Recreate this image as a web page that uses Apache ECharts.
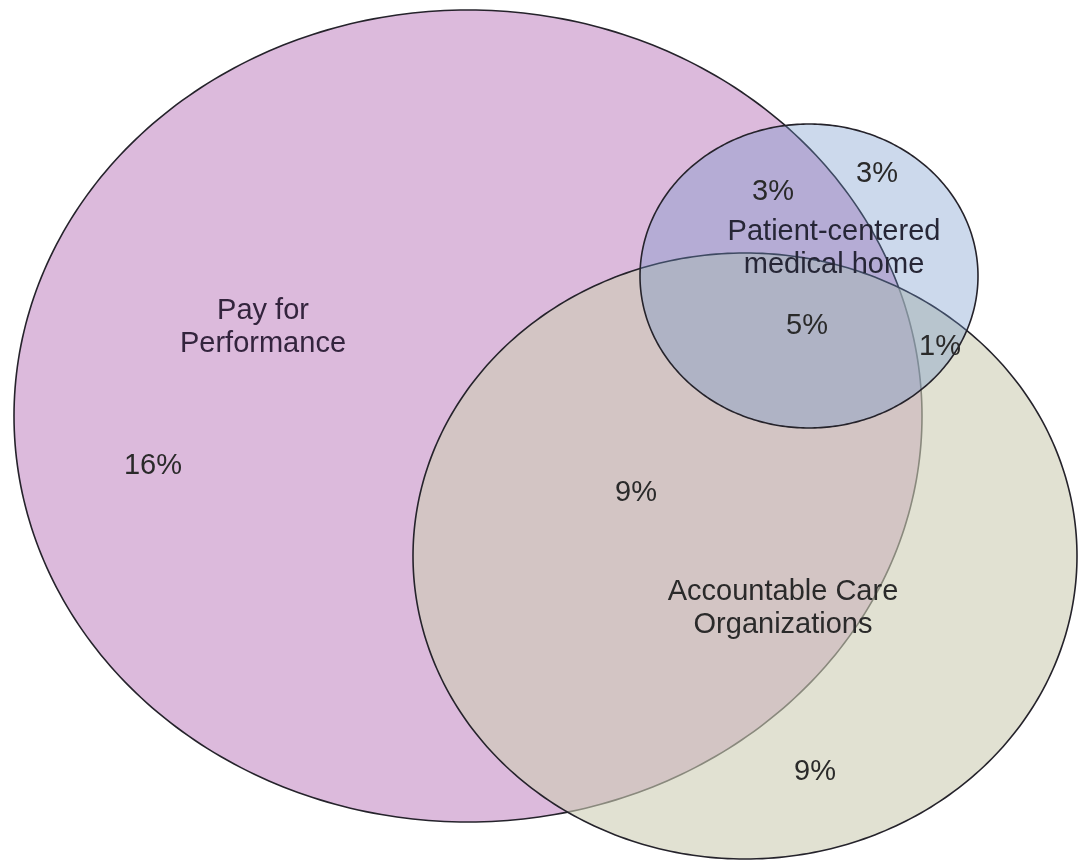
<!DOCTYPE html>
<html>
<head>
<meta charset="utf-8">
<script src="https://cdn.jsdelivr.net/npm/echarts@6/dist/echarts.min.js"></script>
<style>
  html, body { margin: 0; padding: 0; background: #ffffff; }
  #chart { width: 1078px; height: 860px; }
</style>
</head>
<body>
<div id="chart"></div>
<script>
// Program sets (diagram units: 1078 wide, 860 tall, y grows downward)
const setNames   = ['Pay for\nPerformance', 'Accountable Care\nOrganizations', 'Patient-centered\nmedical home'];
const setCenterX = [468, 745, 809];
const setCenterY = [416, 556, 276];
const setRadiusX = [454, 332, 169];
const setRadiusY = [406, 303, 152];
const setLabelX  = [263, 783, 834];
const setLabelY  = [327, 608, 248];

// Share of respondents in each region of the diagram
const regionNames  = ['P4P only', 'P4P + ACO', 'P4P + PCMH', 'PCMH only', 'All three', 'PCMH + ACO', 'ACO only'];
const regionValues = [16, 9, 3, 3, 5, 1, 9];
const regionX      = [153, 636, 773, 877, 807, 940, 815];
const regionY      = [466, 493, 192, 174, 326, 347, 772];

const fills = ['rgb(220,186,220)', 'rgba(205,205,180,0.6)', 'rgba(109,146,200,0.35)'];
const nameColors = ['#33243d', '#2a2a2a', '#262636'];
const FONT = '"Liberation Sans", Arial, Helvetica, sans-serif';

const ellipseData = setNames.map((n, i) => ({
  name: n,
  value: [setCenterX[i], setCenterY[i], setRadiusX[i], setRadiusY[i]]
}));

function renderEllipse(params, api) {
  const cx = api.value(0), cy = api.value(1), rx = api.value(2), ry = api.value(3);
  const pts = [];
  const steps = 360;
  for (let k = 0; k < steps; k++) {
    const t = (k / steps) * Math.PI * 2;
    pts.push(api.coord([cx + rx * Math.cos(t), cy + ry * Math.sin(t)]));
  }
  return {
    type: 'polygon',
    shape: { points: pts },
    style: { fill: fills[params.dataIndex], stroke: '#25232b', lineWidth: 1.6 }
  };
}

const chart = echarts.init(document.getElementById('chart'), null, { renderer: 'canvas' });
chart.setOption({
  backgroundColor: '#ffffff',
  animation: false,
  grid: { left: 0, right: 0, top: 0, bottom: 0 },
  xAxis: { type: 'value', min: 0, max: 1078, show: false },
  yAxis: { type: 'value', min: 0, max: 860, inverse: true, show: false },
  series: [
    {
      type: 'custom',
      renderItem: renderEllipse,
      data: ellipseData,
      encode: { x: [0], y: [1] },
      clip: false,
      silent: true
    },
    {
      type: 'scatter',
      symbolSize: 0,
      silent: true,
      itemStyle: { opacity: 1 },
      data: setNames.map((n, i) => ({
        value: [setLabelX[i], setLabelY[i]],
        label: { color: nameColors[i] }
      })),
      label: {
        show: true,
        position: 'inside',
        formatter: p => setNames[p.dataIndex],
        fontFamily: FONT,
        fontSize: 29,
        lineHeight: 33,
        align: 'center',
        verticalAlign: 'middle'
      },
      z: 5
    },
    {
      type: 'scatter',
      symbolSize: 0,
      silent: true,
      itemStyle: { opacity: 1 },
      data: regionValues.map((v, i) => ({ name: regionNames[i], value: [regionX[i], regionY[i], v] })),
      label: {
        show: true,
        position: 'inside',
        formatter: p => p.value[2] + '%',
        fontFamily: FONT,
        fontSize: 29,
        color: '#2a2a2a',
        align: 'center',
        verticalAlign: 'middle'
      },
      z: 5
    }
  ]
});
</script>
</body>
</html>
